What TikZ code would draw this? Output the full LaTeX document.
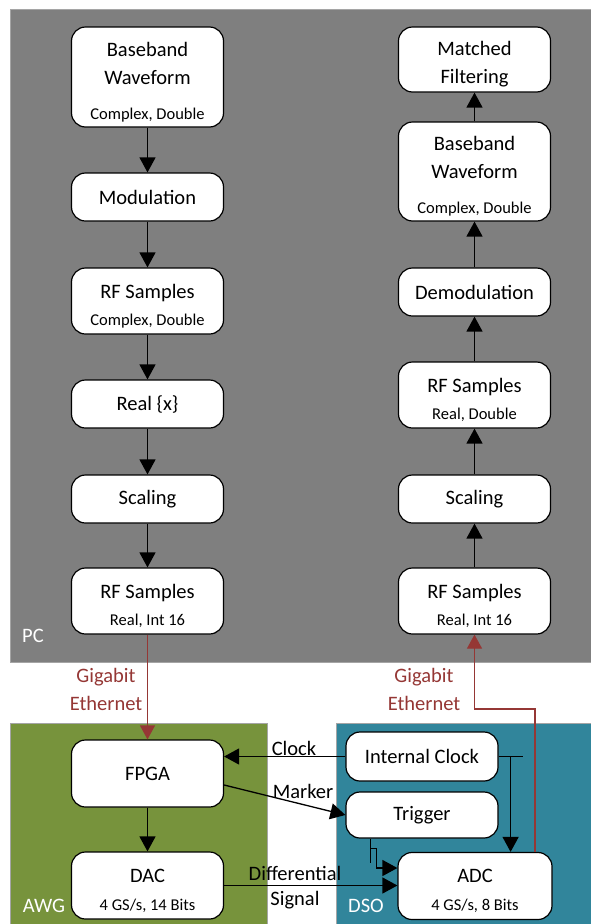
\documentclass[tikz,border=0pt]{standalone}
\usepackage{fontspec}
\setmainfont{Carlito}
\usetikzlibrary{arrows.meta,calc}
\definecolor{pcgray}{RGB}{127,127,127}
\definecolor{pcedge}{RGB}{165,165,165}
\definecolor{awggreen}{RGB}{119,147,60}
\definecolor{dsoteal}{RGB}{49,133,155}
\definecolor{ethred}{RGB}{149,55,53}
\newcommand\ttlfont{\fontsize{20.5}{28}\selectfont}
\newcommand\subfont{\fontsize{16.5}{20}\selectfont}
\newcommand\topgap{\rule{0pt}{24pt}}
\begin{document}
\begin{tikzpicture}[x=1pt,y=-1pt,
  box/.style={draw=black, line width=1.2pt, fill=white, rounded corners=14pt,
    minimum width=152pt, align=center, inner sep=0pt, font=\ttlfont},
  arr/.style={draw=black, line width=1.3pt, -{Triangle[length=15pt,width=16pt]}},
  plain/.style={draw=black, line width=1.3pt},
  eth/.style={draw=ethred, line width=1.2pt, -{Triangle[length=14pt,width=15pt]}},
  ethlbl/.style={text=ethred, font=\ttlfont, align=center},
  lbl/.style={text=black, font=\ttlfont, inner sep=0pt},
  area/.style={draw=pcedge, line width=1pt},
  arealbl/.style={text=white, font=\ttlfont, inner sep=0pt}]
\useasboundingbox (0,0) rectangle (591,924);
\fill[white] (0,0) rectangle (591,924);
% areas
\draw[area, fill=pcgray] (10,9) rectangle (600,662);
\draw[area, fill=awggreen] (10,723) rectangle (267,930);
\draw[area, fill=dsoteal] (336,723) rectangle (600,930);
\node[arealbl] (pc) at (33,636) {PC};
\node[arealbl] (awg) at (44,906) {AWG};
\node[arealbl] (dso) at (366,906) {DSO};
% left column
\node[box, minimum height=100pt] (bb1) at (147.5,77) {\topgap Baseband\\Waveform\\[7pt]{\subfont Complex, Double}};
\node[box, minimum height=48pt] (mod) at (147.5,197) {Modulation};
\node[box, minimum height=66pt] (rf1) at (147.5,301) {\topgap RF Samples\\[-1pt]{\subfont Complex, Double}};
\node[box, minimum height=48pt] (real) at (147.5,404) {Real \{x\}};
\node[box, minimum height=48pt] (sc1) at (147.5,499) {Scaling};
\node[box, minimum height=66pt] (rf2) at (147.5,601) {\topgap RF Samples\\[-1pt]{\subfont Real, Int 16}};
% right column
\node[box, minimum height=65pt] (mf) at (474.5,59.5) {\topgap Matched\\Filtering};
\node[box, minimum height=99pt] (bb2) at (474.5,171.5) {\topgap Baseband\\Waveform\\[7pt]{\subfont Complex, Double}};
\node[box, minimum height=48pt] (dem) at (474.5,292) {Demodulation};
\node[box, minimum height=66pt] (rf3) at (474.5,395) {\topgap RF Samples\\[-1pt]{\subfont Real, Double}};
\node[box, minimum height=48pt] (sc2) at (474.5,499) {Scaling};
\node[box, minimum height=66pt] (rf4) at (474.5,601) {\topgap RF Samples\\[-1pt]{\subfont Real, Int 16}};
% bottom
\node[box, minimum height=67pt] (fpga) at (147.5,773.5) {FPGA};
\node[box, minimum height=67pt] (dac) at (147.5,885.5) {\topgap DAC\\[0pt]{\subfont 4 GS/s, 14 Bits}};
\node[box, minimum height=49pt] (iclk) at (422,756.5) {Internal Clock};
\node[box, minimum height=46pt] (trig) at (422,815) {Trigger};
\node[box, minimum height=67pt, minimum width=154pt] (adc) at (475,886) {\topgap ADC\\[0pt]{\subfont 4 GS/s, 8 Bits}};
% left chain
\draw[arr] (bb1) -- (mod);
\draw[arr] (mod) -- (rf1);
\draw[arr] (rf1) -- (real);
\draw[arr] (real) -- (sc1);
\draw[arr] (sc1) -- (rf2);
% right chain
\draw[arr] (rf4) -- (sc2);
\draw[arr] (sc2) -- (rf3);
\draw[arr] (rf3) -- (dem);
\draw[arr] (dem) -- (bb2);
\draw[arr] (bb2) -- (mf);
% ethernet
\draw[eth] (rf2) -- (fpga);
\coordinate (eup) at (535,709);
\draw[eth] (adc.north -| eup) -- (eup) -| (rf4.south);
\node[ethlbl] (g1) at (106,689) {Gigabit\\Ethernet};
\node[ethlbl] (g2) at (424,689) {Gigabit\\Ethernet};
% bottom connections
\draw[arr] (fpga) -- (dac);
\draw[arr] (iclk.west) -- (iclk.west -| fpga.east);
\draw[arr] ($(fpga.east)+(0,11.5)$) -- (trig.west);
\draw[arr] (dac.east) -- (dac.east -| adc.west);
\coordinate (ct) at ($(iclk.east)+(12,0)$);
\draw[plain] (iclk.east) -- ++(24,0);
\draw[arr] (ct) -- (ct |- adc.north);
\coordinate (tt) at ($(trig.south west)+(25,0)$);
\draw[plain] (tt) -- ++(0,24);
\draw[arr] ($(tt)+(0,10)$) -- ++(6,0) |- ($(adc.west)+(0,-18)$);
\node[lbl] (lclk) at (294,748) {Clock};
\node[lbl] (lmk) at (303,791) {Marker};
\node[lbl] (ldf) at (295,873) {Differential};
\node[lbl] (lsg) at (295,900) {Signal};
\end{tikzpicture}
\end{document}
